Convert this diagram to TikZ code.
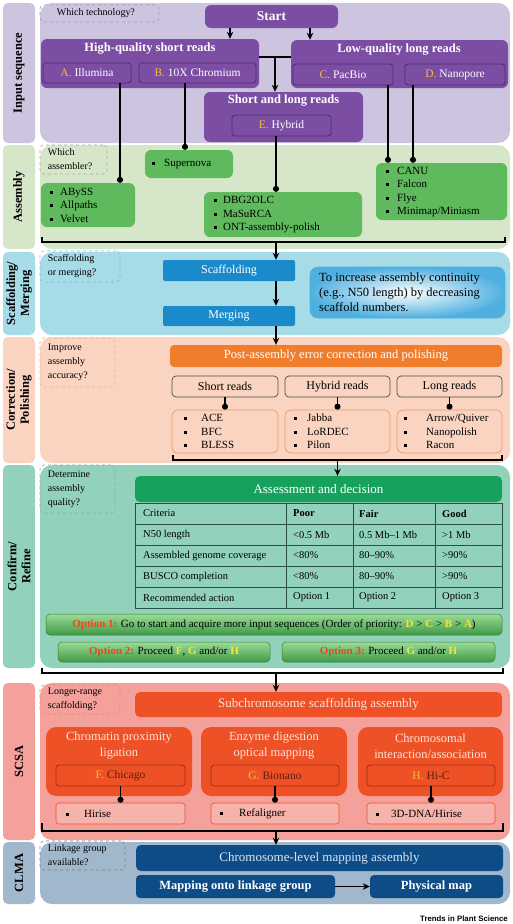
\documentclass[tikz,border=0pt]{standalone}
\usepackage{fontspec}
\setmainfont{Liberation Serif}
\newfontfamily\creditfont{Liberation Sans}
\usetikzlibrary{arrows.meta,positioning,fit,calc,shapes}

\definecolor{lav}{HTML}{CDC4DF}
\definecolor{asmbg}{HTML}{D5E6C9}
\definecolor{scafbg}{HTML}{A8DBE8}
\definecolor{corrbg}{HTML}{FAD4C0}
\definecolor{confbg}{HTML}{92D2BB}
\definecolor{scsabg}{HTML}{F4A09B}
\definecolor{clmabg}{HTML}{A1B7CC}
\definecolor{purp}{HTML}{7B4EA3}
\definecolor{purpdark}{HTML}{4E2A73}
\definecolor{letgold}{HTML}{F6B93C}
\definecolor{asmgreen}{HTML}{5FB95D}
\definecolor{scafblue}{HTML}{1B8ACB}
\definecolor{notebl}{HTML}{4FB0E0}
\definecolor{corrorange}{HTML}{EF7D2B}
\definecolor{corrline}{HTML}{EE9A66}
\definecolor{assgreen}{HTML}{16A25D}
\definecolor{tabline}{HTML}{2A4F45}
\definecolor{optlight}{HTML}{9CDB98}
\definecolor{optdark}{HTML}{3E9A45}
\definecolor{optred}{HTML}{F0441F}
\definecolor{opty}{HTML}{F2E835}
\definecolor{scsared}{HTML}{EF5127}
\definecolor{scsadark}{HTML}{A02E14}
\definecolor{scsalist}{HTML}{F6B3AB}
\definecolor{scsatext}{HTML}{FDE3DA}
\definecolor{clmablue}{HTML}{0E4C88}
\definecolor{clmatext}{HTML}{DCE6F1}

\newcommand{\sqbul}{\rule[0.3ex]{3pt}{3pt}}
\newcommand{\glet}[1]{\textcolor{letgold}{#1}}
\newcommand{\optl}[1]{\textcolor{opty}{\textbf{#1}}}
\newcommand{\optn}[1]{\textcolor{optred}{\textbf{#1}}}

\tikzset{
	sz/.style 2 args={minimum width=#1pt, minimum height=#2pt},
	panel/.style={rounded corners=12pt, inner sep=0pt, fill=#1},
	sidebox/.style={rounded corners=5pt, inner sep=0pt, fill=#1},
	sidelab/.style={rotate=90, align=center, font=\bfseries\fontsize{12.5}{14}\selectfont},
	askbox/.style={draw=#1, dashed, rounded corners=4pt, inner sep=0pt, line width=0.6pt},
	asktext/.style={anchor=west, align=left, inner sep=0pt, font=\fontsize{10}{14}\selectfont},
	purpbox/.style={fill=purp, rounded corners=6pt, inner sep=0pt},
	purptitle/.style={text=white, font=\bfseries\fontsize{12.5}{14}\selectfont},
	purpin/.style={fill=purp, draw=purpdark, line width=0.8pt, rounded corners=3pt, inner sep=0pt, text=white, font=\fontsize{11.5}{13}\selectfont},
	asmbox/.style={fill=asmgreen, rounded corners=6pt, inner sep=0pt},
	listtext/.style={anchor=west, align=left, inner sep=0pt, font=\fontsize{11}{13.5}\selectfont},
	bluebox/.style={fill=scafblue, rounded corners=2pt, inner sep=0pt, text=white, font=\fontsize{12}{14}\selectfont},
	notebox/.style={draw=notebl, line width=0.6pt, rounded corners=8pt, inner sep=0pt, inner color=white, outer color=notebl},
	orangebar/.style={fill=corrorange, rounded corners=4pt, inner sep=0pt, text=white, font=\fontsize{12.5}{14}\selectfont},
	readbox/.style={fill=corrbg, draw=black!70, line width=0.7pt, rounded corners=4pt, inner sep=0pt, font=\fontsize{12}{14}\selectfont},
	readlist/.style={fill=corrbg, draw=corrline, line width=0.7pt, rounded corners=6pt, inner sep=0pt},
	greenbar/.style={fill=assgreen, rounded corners=5pt, inner sep=0pt, text=white, font=\fontsize{13}{15}\selectfont},
	cell/.style={anchor=west, inner sep=0pt, font=\fontsize{10.5}{12}\selectfont},
	tab/.style={draw=tabline, line width=0.7pt},
	optbox/.style={draw=optdark!80!black, line width=0.5pt, rounded corners=4pt, inner sep=0pt, top color=optlight, bottom color=optdark, font=\fontsize{11}{12}\selectfont},
	redbar/.style={fill=scsared, rounded corners=5pt, inner sep=0pt, text=scsatext, font=\fontsize{13}{15}\selectfont},
	redbox/.style={fill=scsared, rounded corners=10pt, inner sep=0pt},
	redtitle/.style={align=center, text=scsatext, font=\fontsize{12.5}{16}\selectfont},
	redin/.style={fill=scsared, draw=scsadark, line width=0.8pt, rounded corners=3pt, inner sep=0pt, text=scsadark!60!black, font=\fontsize{11.5}{13}\selectfont},
	redlist/.style={fill=scsalist, draw=scsared, line width=0.6pt, rounded corners=3pt, inner sep=0pt},
	darkbar/.style={fill=clmablue, rounded corners=5pt, inner sep=0pt, text=clmatext, font=\fontsize{13}{15}\selectfont},
	darkbox/.style={fill=clmablue, rounded corners=4pt, inner sep=0pt, text=white, font=\bfseries\fontsize{12.5}{14}\selectfont},
	conn/.style={line width=1.4pt},
	arr/.style={-{Stealth[length=7pt,width=6.5pt]}, line width=1.4pt},
	dotline/.style={-{Circle[length=6pt]}, line width=1.4pt}
}

\begin{document}
\begin{tikzpicture}[x=1pt,y=-1pt]
		\useasboundingbox (0,0) rectangle (513,924);

		% input sequence
		\node [sidebox=lav, fit={(3,3)(35,143)}] (s1) {};
		\node [sidelab] (s1t) at (s1.center) {Input sequence};
		\node [panel=lav, fit={(40,3)(510,143)}] (p1) {};
		\node [askbox=purpdark!50, fit={(40,5)(159,22)}] (q1) {};
		\node [asktext] (q1t) at ([xshift=17pt]q1.west) {Which technology?};
		\node [purpbox, sz={133}{23}, text=white, font=\bfseries\fontsize{13.5}{15}\selectfont] (start) at (271.5,16.5) {Start};
		\node [purpbox, fit={(41,39)(259,88)}] (hq) {};
		\node [purptitle] (hqt) at (150,49) {High-quality short reads};
		\node [purpin, sz={88}{20}] (illu) at (87,73) {\glet{A.} Illumina};
		\node [purpin, sz={117}{20}] (chro) at (197.5,73) {\glet{B.} 10X Chromium};
		\node [purpbox, fit={(291,40)(508,88)}] (lq) {};
		\node [purptitle] (lqt) at (399,50) {Low-quality long reads};
		\node [purpin, sz={100}{21}] (pac) at (343,74.5) {\glet{C.} PacBio};
		\node [purpin, sz={100}{21}] (nano) at (455,74.5) {\glet{D.} Nanopore};
		\node [purpbox, fit={(204,92)(363,142)}] (sl) {};
		\node [purptitle] (slt) at (283.5,101) {Short and long reads};
		\node [purpin, sz={99}{21}] (hyb) at (281.5,125.5) {\glet{E.} Hybrid};

		% assembly
		\node [sidebox=asmbg, fit={(3,145)(35,249)}] (s2) {};
		\node [sidelab] (s2t) at (s2.center) {Assembly};
		\node [panel=asmbg, fit={(40,145)(510,249)}] (p2) {};
		\node [askbox=black!35, fit={(40,145)(107,174)}] (q2) {};
		\node [asktext] (q2t) at ([xshift=8pt]q2.west) {Which\\assembler?};
		\node [asmbox, fit={(145,150)(233,178)}] (supn) {};
		\node [listtext] (supnt) at (152,164) {\sqbul\hspace{9pt}Supernova};
		\node [asmbox, fit={(41,183)(135,227)}] (abyss) {};
		\node [listtext] (abysst) at (50,205) {\sqbul\hspace{7pt}ABySS\\\sqbul\hspace{7pt}Allpaths\\\sqbul\hspace{7pt}Velvet};
		\node [asmbox, fit={(204,192)(362,237)}] (dbg) {};
		\node [listtext] (dbgt) at (214,215) {\sqbul\hspace{6pt}DBG2OLC\\\sqbul\hspace{6pt}MaSuRCA\\\sqbul\hspace{6pt}ONT-assembly-polish};
		\node [asmbox, fit={(376,163)(507,220)}] (canu) {};
		\node [listtext] (canut) at (386,192) {\sqbul\hspace{8pt}CANU\\\sqbul\hspace{8pt}Falcon\\\sqbul\hspace{8pt}Flye\\\sqbul\hspace{8pt}Minimap/Miniasm};

		% scaffolding / merging
		\node [sidebox=scafbg, fit={(3,252)(35,335)}] (s3) {};
		\node [sidelab] (s3t) at (s3.center) {Scaffolding/\\Merging};
		\node [panel=scafbg, fit={(40,252)(510,335)}] (p3) {};
		\node [askbox=scafblue!60, fit={(40,251)(120,282)}] (q3) {};
		\node [asktext] (q3t) at ([xshift=8pt]q3.west) {Scaffolding\\or merging?};
		\node [bluebox, sz={132}{21}] (scaf) at (229,270.5) {Scaffolding};
		\node [bluebox, sz={132}{20}] (merg) at (229,316) {Merging};
		\node [notebox, fit={(310,267)(505,318)}] (note) {};
		\node [anchor=west, align=left, inner sep=0pt, font=\fontsize{12.5}{15}\selectfont] (notet) at (319,292.5) {To increase assembly continuity\\(e.g., N50 length) by decreasing\\scaffold numbers.};

		% correction / polishing
		\node [sidebox=corrbg, fit={(3,337)(35,463)}] (s4) {};
		\node [sidelab] (s4t) at (s4.center) {Correction/\\Polishing};
		\node [panel=corrbg, fit={(40,337)(510,463)}] (p4) {};
		\node [askbox=corrorange!60, fit={(40,338)(115,387)}] (q4) {};
		\node [asktext] (q4t) at ([xshift=8pt]q4.west) {Improve\\assembly\\accuracy?};
		\node [orangebar, sz={332}{22}] (post) at (336,356) {Post-assembly error correction and polishing};
		\node [readbox, sz={106}{21}] (sr) at (225,386.5) {Short reads};
		\node [readbox, sz={105}{21}] (hr) at (337.5,386.5) {Hybrid reads};
		\node [readbox, sz={105}{21}] (lr) at (449.5,386.5) {Long reads};
		\node [readlist, fit={(172,410)(278,453)}] (srl) {};
		\node [listtext] (srlt) at (184,431.5) {\sqbul\hspace{14pt}ACE\\\sqbul\hspace{14pt}BFC\\\sqbul\hspace{14pt}BLESS};
		\node [readlist, fit={(285,410)(390,453)}] (hrl) {};
		\node [listtext] (hrlt) at (294,431.5) {\sqbul\hspace{10pt}Jabba\\\sqbul\hspace{10pt}LoRDEC\\\sqbul\hspace{10pt}Pilon};
		\node [readlist, fit={(397,410)(502,453)}] (lrl) {};
		\node [listtext] (lrlt) at (404,431.5) {\sqbul\hspace{19pt}Arrow/Quiver\\\sqbul\hspace{19pt}Nanopolish\\\sqbul\hspace{19pt}Racon};

		% confirm / refine
		\node [sidebox=confbg, fit={(3,465)(35,668)}] (s5) {};
		\node [sidelab] (s5t) at (s5.center) {Confirm/\\Refine};
		\node [panel=confbg, fit={(40,465)(510,668)}] (p5) {};
		\node [askbox=tabline!50, fit={(40,465)(115,513)}] (q5) {};
		\node [asktext] (q5t) at ([xshift=8pt]q5.west) {Determine\\assembly\\quality?};
		\node [greenbar, sz={367}{26}] (assess) at (318.5,489) {Assessment and decision};
		\draw [tab] (135,503) rectangle (502,608);
		\foreach \yy in {524,545,566,587}
			\draw [tab] (135,\yy) -- (502,\yy);
		\foreach \xx in {286,353,435}
			\draw [tab] (\xx,503) -- (\xx,608);
		\foreach \yy/\ca/\cb/\cc/\cd [count=\r] in {513.5/Criteria/\textbf{Poor}/\textbf{Fair}/\textbf{Good},
				534.5/N50 length/<0.5 Mb/0.5 Mb–1 Mb/>1 Mb,
				555.5/Assembled genome coverage/<80\%/80–90\%/>90\%,
				576.5/BUSCO completion/<80\%/80–90\%/>90\%,
				597.5/Recommended action/Option 1/Option 2/Option 3}
		{
			\node [cell] (r\r-a) at (143,\yy) {\ca};
			\node [cell] (r\r-b) at (293,\yy) {\cb};
			\node [cell] (r\r-c) at (359,\yy) {\cc};
			\node [cell] (r\r-d) at (442,\yy) {\cd};
		}
		\node [optbox, sz={456}{21}] (opt1) at (274,624.5) {\optn{Option 1:} Go to start and acquire more input sequences (Order of priority: \optl{D} > \optl{C} > \optl{B} > \optl{A})};
		\node [optbox, sz={212}{20}] (opt2) at (164,652) {\optn{Option 2:} Proceed \optl{F}, \optl{G} and/or \optl{H}};
		\node [optbox, sz={213}{20}] (opt3) at (388.5,652) {\optn{Option 3:} Proceed \optl{G} and/or \optl{H}};

		% subchromosome scaffolding assembly
		\node [sidebox=scsabg, fit={(3,683)(35,840)}] (s6) {};
		\node [sidelab] (s6t) at (s6.center) {SCSA};
		\node [panel=scsabg, fit={(40,683)(510,840)}] (p6) {};
		\node [askbox=scsared!70, fit={(40,685)(120,714)}] (q6) {};
		\node [asktext] (q6t) at ([xshift=8pt]q6.west) {Longer-range\\scaffolding?};
		\node [redbar, sz={367}{25}] (sub) at (318.5,704.5) {Subchromosome scaffolding assembly};
		\node [redbox, fit={(46,727)(192,796)}] (m1) {};
		\node [redtitle] (m1t) at (119,746) {Chromatin proximity\\ligation};
		\node [redbox, fit={(201,727)(347,796)}] (m2) {};
		\node [redtitle] (m2t) at (274,746) {Enzyme digestion\\optical mapping};
		\node [redbox, fit={(358,727)(503,796)}] (m3) {};
		\node [redtitle] (m3t) at (430.5,746) {Chromosomal\\interaction/association};
		\node [redin, sz={129}{21}] (chic) at (120.5,775.5) {\glet{F.} Chicago};
		\node [redin, sz={128}{21}] (bion) at (275,775.5) {\glet{G.} Bionano};
		\node [redin, sz={128}{21}] (hic) at (431,775.5) {\glet{H.} Hi-C};
		\node [redlist, fit={(56,803)(185,824)}] (hiri) {};
		\node [listtext] (hirit) at (66,813.5) {\sqbul\hspace{15pt}Hirise};
		\node [redlist, fit={(211,803)(339,824)}] (refa) {};
		\node [listtext] (refat) at (220,813.5) {\sqbul\hspace{16pt}Refaligner};
		\node [redlist, fit={(367,803)(495,824)}] (dna) {};
		\node [listtext] (dnat) at (376,813.5) {\sqbul\hspace{12pt}3D-DNA/Hirise};

		% chromosome-level mapping assembly
		\node [sidebox=clmabg, fit={(3,842)(35,904)}] (s7) {};
		\node [sidelab] (s7t) at (s7.center) {CLMA};
		\node [panel=clmabg, fit={(40,842)(510,904)}] (p7) {};
		\node [askbox=black!50, fit={(40,841)(125,870)}] (q7) {};
		\node [asktext] (q7t) at ([xshift=8pt]q7.west) {Linkage group\\available?};
		\node [darkbar, sz={367}{26}] (chrom) at (319.5,858) {Chromosome-level mapping assembly};
		\node [darkbox, sz={199}{23}] (mapl) at (235.5,886.5) {Mapping onto linkage group};
		\node [darkbox, sz={133}{23}] (phys) at (436.5,886.5) {Physical map};
		\node [anchor=east, inner sep=0pt, font=\creditfont\bfseries\fontsize{7.8}{9}\selectfont] (credit) at (508,919) {Trends in Plant Science};

		% column and bracket points
		\coordinate (xS1) at (230,0);
		\coordinate (xS2) at (310,0);
		\coordinate (mid) at (275,57);
		\coordinate (xA) at (120,0);
		\coordinate (xB) at (185,0);
		\coordinate (xE) at (276,0);
		\coordinate (xC) at (388,0);
		\coordinate (xD) at (413,0);
		\coordinate (b2l) at (42,242);
		\coordinate (b2r) at (505,242);
		\coordinate (b4l) at (173,460);
		\coordinate (b4r) at (502,460);
		\coordinate (b5l) at (42,673);
		\coordinate (b5r) at (503,673);
		\coordinate (b6l) at (42,831);
		\coordinate (b6r) at (503,831);

		\draw [arr] (start.south -| xS1) to (hq.north -| xS1);
		\draw [arr] (start.south -| xS2) to (lq.north -| xS2);
		\draw [conn] (hq.east |- mid) to (lq.west |- mid);
		\draw [arr] (mid) to (sl.north -| mid);
		\draw [dotline] (illu.south -| xA) to (abyss.north -| xA);
		\draw [dotline] (chro.south -| xB) to (supn.north -| xB);
		\draw [dotline] (hyb.south -| xE) to (dbg.north -| xE);
		\draw [dotline] (pac.south -| xC) to (canu.north -| xC);
		\draw [dotline] (nano.south -| xD) to (canu.north -| xD);
		\draw [conn] ([yshift=5pt]b2l) -- (b2l) -- (b2r) -- ([yshift=5pt]b2r);
		\draw [arr] (b2l -| xE) to (scaf.north -| xE);
		\draw [arr] (scaf.south -| xE) to (merg.north -| xE);
		\draw [arr] (merg.south -| xE) to (post.north -| xE);
		\draw [dotline] (sr) to (srl);
		\draw [dotline] (hr) to (hrl);
		\draw [dotline] (lr) to (lrl);
		\draw [conn] ([yshift=5pt]b4l) -- (b4l) -- (b4r) -- ([yshift=5pt]b4r);
		\draw [arr] (b4l -| hr.south) to (assess.north -| hr.south);
		\draw [conn] ([yshift=5pt]b5l) -- (b5l) -- (b5r) -- ([yshift=5pt]b5r);
		\draw [arr] (b5l -| xE) to (sub.north -| xE);
		\draw [dotline] (chic) to (hiri);
		\draw [dotline] (bion) to (refa);
		\draw [dotline] (hic) to (dna);
		\draw [conn] ([yshift=8pt]b6l) -- (b6l) -- (b6r) -- ([yshift=8pt]b6r);
		\draw [arr] (b6l -| xE) to (chrom.north -| xE);
		\draw [arr] (mapl) to (phys);
\end{tikzpicture}
\end{document}
